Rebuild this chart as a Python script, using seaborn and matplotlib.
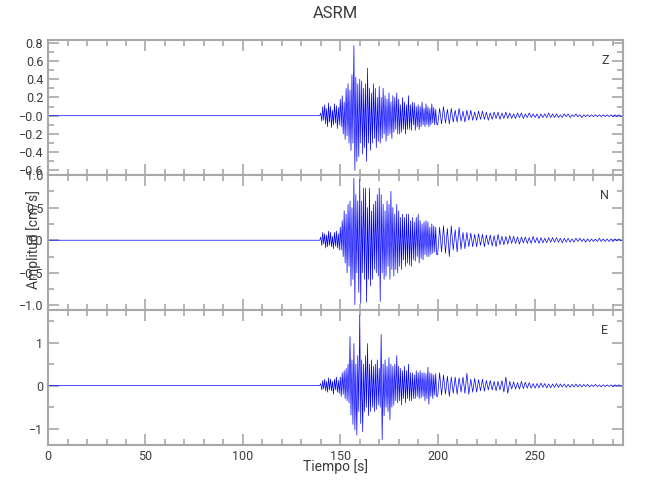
import matplotlib
matplotlib.use('Agg')
import matplotlib.pyplot as plt
import seaborn as sns
from matplotlib.ticker import FixedLocator, FixedFormatter, MultipleLocator

# sample times [s]: quiet part, 0.5 s samples in the strong part, then 1 s samples
quiet_t = [0, 139.5]
strong_t = [140 + 0.5 * k for k in range(120)]
coda_t = list(range(200, 296))
time = quiet_t + strong_t + coda_t

# amplitudes [cm/s] (peaks)
z_strong = [
    0.03, -0.06, 0.1, -0.05, 0.12, -0.09, 0.08, -0.12, 0.14, -0.07,
    0.1, -0.13, 0.06, -0.1, 0.13, -0.08, 0.11, -0.14, 0.09, -0.1,
    0.18, -0.12, 0.22, -0.2, 0.15, -0.26, 0.3, -0.22, 0.35, -0.3,
    0.28, -0.38, 0.45, -0.3, 0.77, -0.6, 0.42, -0.5, 0.35, -0.45,
    0.4, -0.3, 0.38, -0.42, 0.3, -0.35, 0.35, -0.5, 0.52, -0.3,
    0.3, -0.38, 0.25, -0.3, 0.35, -0.25, 0.3, -0.35, 0.2, -0.28,
    0.32, -0.3, 0.2, -0.25, 0.3, -0.2, 0.22, -0.28, 0.18, -0.22,
    0.25, -0.2, 0.15, -0.25, 0.22, -0.18, 0.2, -0.15, 0.25, -0.2,
    0.18, -0.2, 0.12, -0.18, 0.2, -0.15, 0.15, -0.2, 0.12, -0.15,
    0.22, -0.15, 0.12, -0.16, 0.15, -0.1, 0.14, -0.16, 0.1, -0.12,
    0.12, -0.15, 0.1, -0.12, 0.15, -0.1, 0.08, -0.12, 0.13, -0.1,
    0.1, -0.12, 0.08, -0.1, 0.13, -0.08, 0.09, -0.1, 0.07, -0.09,
]
z_coda = [
    -0.1, 0.08, -0.09, 0.1, -0.08, 0.07, -0.09, 0.08, -0.07, 0.06,
    -0.07, 0.08, -0.06, 0.05, -0.07, 0.06, -0.05, 0.06, -0.05, 0.04,
    -0.05, 0.05, -0.04, 0.05, -0.04, 0.04, -0.05, 0.03, -0.04, 0.04,
    -0.03, 0.04, -0.04, 0.03, -0.03, 0.04, -0.03, 0.03, -0.03, 0.02,
    -0.03, 0.03, -0.02, 0.03, -0.03, 0.02, -0.02, 0.03, -0.02, 0.02,
    -0.02, 0.02, -0.03, 0.02, -0.02, 0.02, -0.02, 0.03, -0.02, 0.02,
    -0.02, 0.02, -0.02, 0.01, -0.02, 0.02, -0.01, 0.02, -0.02, 0.01,
    -0.01, 0.02, -0.01, 0.01, -0.02, 0.01, -0.01, 0.01, -0.01, 0.01,
    -0.01, 0.01, -0.01, 0.01, -0.01, 0.01, -0.01, 0.01, -0.01, 0.01,
    -0.01, 0.01, -0.01, 0.01, -0.01, 0.0,
]
n_strong = [
    0.05, -0.08, 0.12, -0.06, 0.1, -0.12, 0.08, -0.1, 0.14, -0.08,
    0.12, -0.1, 0.06, -0.13, 0.12, -0.09, 0.14, -0.12, 0.1, -0.15,
    0.2, -0.15, 0.3, -0.25, 0.45, -0.35, 0.4, -0.5, 0.55, -0.4,
    0.6, -0.7, 0.5, -0.6, 0.95, -0.99, 0.7, -0.5, 0.6, -0.8,
    0.93, -0.97, 0.6, -0.5, 0.8, -0.6, 0.8, -0.95, 0.5, -0.6,
    0.8, -0.7, 0.45, -0.6, 0.55, -0.45, 0.6, -0.5, 0.7, -0.55,
    0.8, -0.94, 0.7, -0.5, 0.55, -0.6, 0.45, -0.55, 0.6, -0.4,
    0.55, -0.6, 0.75, -0.45, 0.5, -0.55, 0.4, -0.45, 0.55, -0.5,
    0.45, -0.4, 0.35, -0.45, 0.4, -0.3, 0.35, -0.4, 0.4, -0.35,
    0.4, -0.38, 0.3, -0.4, 0.35, -0.3, 0.28, -0.32, 0.35, -0.25,
    0.4, -0.35, 0.3, -0.28, 0.25, -0.3, 0.28, -0.22, 0.3, -0.25,
    0.28, -0.25, 0.2, -0.22, 0.25, -0.2, 0.22, -0.18, 0.2, -0.22,
]
n_coda = [
    -0.22, 0.2, -0.18, 0.22, -0.2, 0.18, -0.25, 0.22, -0.15, 0.16,
    -0.18, 0.2, -0.14, 0.12, -0.13, 0.12, -0.1, 0.11, -0.1, 0.09,
    -0.1, 0.1, -0.08, 0.09, -0.1, 0.08, -0.07, 0.08, -0.09, 0.07,
    -0.1, 0.09, -0.07, 0.06, -0.07, 0.06, -0.06, 0.07, -0.05, 0.06,
    -0.05, 0.05, -0.06, 0.05, -0.04, 0.05, -0.05, 0.04, -0.05, 0.06,
    -0.04, 0.04, -0.05, 0.04, -0.04, 0.03, -0.04, 0.04, -0.03, 0.04,
    -0.03, 0.04, -0.03, 0.03, -0.04, 0.03, -0.03, 0.03, -0.03, 0.02,
    -0.03, 0.03, -0.02, 0.03, -0.02, 0.02, -0.03, 0.02, -0.02, 0.02,
    -0.02, 0.02, -0.02, 0.03, -0.02, 0.02, -0.02, 0.02, -0.02, 0.02,
    -0.02, 0.02, -0.01, 0.02, -0.01, 0.01,
]
e_strong = [
    0.05, -0.1, 0.12, -0.08, 0.15, -0.12, 0.1, -0.15, 0.18, -0.1,
    0.15, -0.12, 0.1, -0.2, 0.15, -0.1, 0.2, -0.15, 0.12, -0.18,
    0.2, -0.25, 0.3, -0.2, 0.35, -0.3, 0.4, -0.35, 0.5, -0.4,
    1.14, -0.68, 0.6, -0.9, 0.98, -1.03, 0.5, -1.15, 0.7, -0.6,
    1.64, -0.88, 0.6, -1.07, 0.5, -0.6, 0.7, -0.5, 0.98, -0.7,
    0.5, -0.6, 0.6, -0.5, 0.45, -0.6, 0.5, -0.55, 0.6, -0.45,
    0.4, -0.5, 1.19, -1.26, 0.5, -0.7, 0.6, -0.5, 0.45, -0.6,
    0.65, -0.8, 0.5, -0.5, 0.45, -0.45, 0.5, -0.35, 0.7, -0.4,
    0.45, -0.35, 0.4, -0.45, 0.35, -0.3, 0.45, -0.4, 0.35, -0.3,
    0.5, -0.35, 0.3, -0.35, 0.3, -0.3, 0.25, -0.3, 0.35, -0.25,
    0.3, -0.3, 0.35, -0.28, 0.3, -0.25, 0.3, -0.35, 0.28, -0.3,
    0.43, -0.43, 0.3, -0.25, 0.28, -0.3, 0.25, -0.22, 0.28, -0.25,
]
e_coda = [
    -0.25, 0.3, -0.22, 0.25, -0.2, 0.22, -0.25, 0.2, -0.18, 0.2,
    -0.2, 0.18, -0.15, 0.2, -0.18, 0.29, -0.2, 0.15, -0.15, 0.17,
    -0.15, 0.14, -0.12, 0.15, -0.13, 0.12, -0.1, 0.12, -0.1, 0.1,
    -0.12, 0.1, -0.1, 0.12, -0.15, 0.2, -0.18, 0.1, -0.08, 0.09,
    -0.08, 0.07, -0.08, 0.1, -0.07, 0.08, -0.06, 0.07, -0.06, 0.05,
    -0.06, 0.05, -0.05, 0.06, -0.04, 0.05, -0.05, 0.04, -0.05, 0.04,
    -0.04, 0.05, -0.04, 0.04, -0.03, 0.04, -0.04, 0.03, -0.04, 0.03,
    -0.03, 0.04, -0.03, 0.03, -0.03, 0.03, -0.02, 0.03, -0.03, 0.02,
    -0.02, 0.03, -0.02, 0.02, -0.03, 0.02, -0.02, 0.02, -0.02, 0.02,
    -0.02, 0.02, -0.01, 0.02, -0.01, 0.01,
]

components = ['Z', 'N', 'E']
series = [[0.0, 0.0] + z_strong + z_coda,
          [0.0, 0.0] + n_strong + n_coda,
          [0.0, 0.0] + e_strong + e_coda]
ylims = [(-0.65, 0.83), (-1.07, 1.0), (-1.38, 1.76)]
ytick_vals = [[-0.6, -0.4, -0.2, 0.0, 0.2, 0.4, 0.6, 0.8],
              [-1.0, -0.5, 0.0, 0.5, 1.0],
              [-1, 0, 1]]
ytick_labels = [['\u22120.6', '\u22120.4', '\u22120.2', '\u22120.0', '0.2', '0.4', '0.6', '0.8'],
                ['\u22121.0', '\u22120.5', '0.0', '0.5', '1.0'],
                ['\u22121', '0', '1']]
yminor = [0.1, 0.25, 0.5]
xtick_vals = [0, 50, 100, 150, 200, 250]
xtick_labels = ['0', '50', '100', '150', '200', '250']

sns.set_style('ticks')
plt.rcParams['font.family'] = ['Roboto', 'DejaVu Sans']

frame = '#a8a8a8'
txt = '#3c3c3c'

fig, axes = plt.subplots(3, 1, figsize=(6.5, 5), dpi=100, sharex=True)
fig.subplots_adjust(left=0.074, right=0.958, top=0.92, bottom=0.11, hspace=0)

for i, ax in enumerate(axes):
    sns.lineplot(x=time, y=series[i], ax=ax, color='#0000ff', linewidth=0.5,
                 estimator=None, sort=False)
    ax.set_xlim(0, 295)
    ax.set_ylim(*ylims[i])
    ax.yaxis.set_major_locator(FixedLocator(ytick_vals[i]))
    ax.yaxis.set_major_formatter(FixedFormatter(ytick_labels[i]))
    ax.yaxis.set_minor_locator(MultipleLocator(yminor[i]))
    ax.xaxis.set_major_locator(FixedLocator(xtick_vals))
    ax.xaxis.set_minor_locator(MultipleLocator(10))
    ax.tick_params(which='both', direction='in', top=True, right=True,
                   color=frame, labelcolor=txt, labelsize=9, width=1.2)
    ax.tick_params(which='major', length=8)
    ax.tick_params(which='minor', length=4)
    for s in ax.spines.values():
        s.set_color(frame)
        s.set_linewidth(1.5)
    ax.text(0.969, 0.85, components[i], transform=ax.transAxes,
            ha='center', va='center', fontsize=9, color=txt)
    ax.set_ylabel('')

axes[2].xaxis.set_major_formatter(FixedFormatter(xtick_labels))

fig.text(0.516, 0.972, 'ASRM', ha='center', va='center', fontsize=12, color=txt)
fig.text(0.516, 0.066, 'Tiempo [s]', ha='center', va='center', fontsize=10, color=txt)
fig.text(0.052, 0.52, 'Amplitud [cm/s]', ha='center', va='center', rotation=90,
         fontsize=10, color=txt)

fig.savefig('out.png', dpi=100)
